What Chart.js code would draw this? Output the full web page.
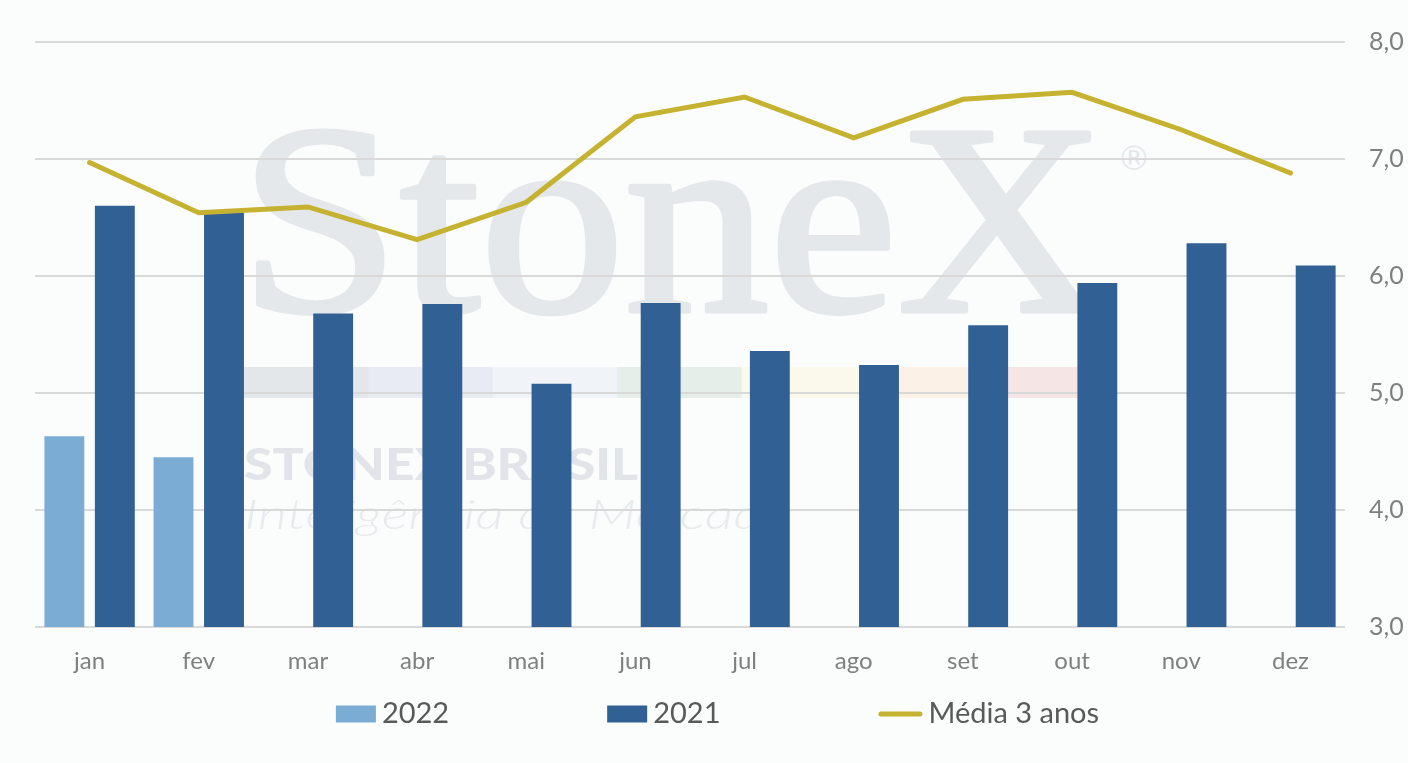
<!DOCTYPE html>
<html>
<head>
<meta charset="utf-8">
<script src="https://cdn.jsdelivr.net/npm/chart.js@4.4.1/dist/chart.umd.min.js"></script>
<style>
  html, body { margin: 0; padding: 0; background: #FBFCFC; overflow: hidden; }
  #wrap { position: relative; width: 1408px; height: 763px; }
</style>
</head>
<body>
<div id="wrap"><canvas id="chart"></canvas></div>
<script>
const categories = ['jan', 'fev', 'mar', 'abr', 'mai', 'jun', 'jul', 'ago', 'set', 'out', 'nov', 'dez'];
const serie2022 = [4.63, 4.45, null, null, null, null, null, null, null, null, null, null];
const serie2021 = [6.60, 6.54, 5.68, 5.76, 5.08, 5.77, 5.36, 5.24, 5.58, 5.94, 6.28, 6.09];
const media3anos = [6.97, 6.54, 6.59, 6.31, 6.63, 7.36, 7.53, 7.18, 7.51, 7.57, 7.25, 6.88];
const yTickValues = [3, 4, 5, 6, 7, 8];
const seriesLabels = ['2022', '2021', 'Média 3 anos'];

const COLORS = { c2022: '#7BADD4', c2021: '#316094', media: '#C5B230', grid: '#D9D9D9', tick: '#7F7F7F', legend: '#595959', bg: '#FBFCFC' };
const FONT = 'Lato, "Open Sans", sans-serif';

const fmt = v => v.toFixed(1).replace('.', ',');

// Background + faint StoneX watermark (decoration behind the grid)
const watermarkPlugin = {
  id: 'watermark',
  beforeDraw(chart) {
    const ctx = chart.ctx;
    ctx.save();
    ctx.fillStyle = COLORS.bg;
    ctx.fillRect(0, 0, chart.width, chart.height);

    // Big serif word
    ctx.fillStyle = '#E4E8EB';
    ctx.strokeStyle = '#E4E8EB';
    ctx.lineWidth = 5;
    ctx.lineJoin = 'round';
    ctx.font = '272px "Liberation Serif", "DejaVu Serif", serif';
    ctx.textBaseline = 'alphabetic';
    ctx.textAlign = 'left';
    const w = ctx.measureText('StoneX').width;
    ctx.save();
    ctx.translate(239, 311);
    ctx.scale(867 / w, 1);
    ctx.fillText('StoneX', 0, 0);
    ctx.strokeText('StoneX', 0, 0);
    ctx.restore();
    ctx.font = '34px "DejaVu Sans", sans-serif';
    ctx.fillText('®', 1117, 170);

    // Coloured bands
    const bandCols = ['#E3E7EA', '#E8EBF4', '#F0F3F8', '#E6EEEA', '#FBF8EC', '#FBF1E6', '#F5E5E5'];
    const x0 = 244, x1 = 1115, bw = (x1 - x0) / bandCols.length;
    bandCols.forEach((c, i) => {
      ctx.fillStyle = c;
      ctx.fillRect(x0 + i * bw, 367, bw + 0.5, 31);
    });

    // Sub-titles
    ctx.fillStyle = '#E1E5E9';
    ctx.font = '900 44px Lato, sans-serif';
    const w2 = ctx.measureText('STONEX BRASIL').width;
    ctx.save();
    ctx.translate(244, 480);
    ctx.scale(394 / w2, 1);
    ctx.fillText('STONEX BRASIL', 0, 0);
    ctx.restore();

    ctx.fillStyle = '#E8EBEE';
    ctx.font = 'italic 300 42px Lato, sans-serif';
    const w3 = ctx.measureText('Inteligência de Mercado').width;
    ctx.save();
    ctx.translate(244, 529);
    ctx.scale(548 / w3, 1);
    ctx.fillText('Inteligência de Mercado', 0, 0);
    ctx.restore();
    ctx.restore();
  }
};

// Legend drawn below the axis, built from the datasets
const legendPlugin = {
  id: 'customLegend',
  afterDraw(chart) {
    const ctx = chart.ctx;
    ctx.save();
    ctx.font = '29px ' + FONT;
    ctx.textBaseline = 'middle';
    ctx.textAlign = 'left';
    const boxW = 40, gapText = 6, gapItem = 158;
    const items = chart.data.datasets.map(ds => ({
      text: ds.label,
      color: ds.type === 'line' ? ds.borderColor : ds.backgroundColor,
      line: ds.type === 'line',
      mw: ds.type === 'line' ? 44 : boxW
    }));
    let total = 0;
    items.forEach((it, i) => {
      it.tw = ctx.measureText(it.text).width;
      total += it.mw + gapText + it.tw + (i < items.length - 1 ? gapItem : 0);
    });
    const cy = 714;
    let x = 717.5 - total / 2;
    items.forEach(it => {
      if (it.line) {
        ctx.strokeStyle = it.color;
        ctx.lineWidth = 5;
        ctx.lineCap = 'round';
        ctx.beginPath();
        ctx.moveTo(x + 2.5, cy);
        ctx.lineTo(x + it.mw - 2.5, cy);
        ctx.stroke();
      } else {
        ctx.fillStyle = it.color;
        ctx.fillRect(x, cy - 8.5, it.mw, 17);
      }
      x += it.mw + gapText;
      ctx.fillStyle = COLORS.legend;
      ctx.fillText(it.text, x, cy);
      x += it.tw + gapItem;
    });
    ctx.restore();
  }
};

new Chart(document.getElementById('chart'), {
  data: {
    labels: categories,
    datasets: [
      { type: 'bar', label: seriesLabels[0], data: serie2022, backgroundColor: COLORS.c2022, order: 2,
        categoryPercentage: 0.925, barPercentage: 0.79 },
      { type: 'bar', label: seriesLabels[1], data: serie2021, backgroundColor: COLORS.c2021, order: 2,
        categoryPercentage: 0.925, barPercentage: 0.79 },
      { type: 'line', label: seriesLabels[2], data: media3anos, borderColor: COLORS.media, backgroundColor: COLORS.media,
        borderWidth: 5, pointRadius: 0, pointHoverRadius: 0, tension: 0, borderCapStyle: 'round', borderJoinStyle: 'miter', order: 1 }
    ]
  },
  options: {
    responsive: true,
    maintainAspectRatio: false,
    animation: false,
    devicePixelRatio: 1,
    layout: { padding: { left: 35, right: 0, top: 42, bottom: 76 } },
    plugins: {
      legend: { display: false },
      tooltip: { enabled: false }
    },
    scales: {
      x: {
        grid: { display: false },
        border: { display: false },
        ticks: { color: COLORS.tick, font: { family: FONT, size: 24 }, padding: 12, maxRotation: 0 },
        afterFit(scale) { scale.height = 60; }
      },
      y: {
        position: 'right',
        min: 3,
        max: 8,
        afterBuildTicks(scale) { scale.ticks = yTickValues.map(v => ({ value: v })); },
        grid: { color: COLORS.grid, lineWidth: 2, drawTicks: false },
        border: { display: false },
        ticks: { color: COLORS.tick, font: { family: FONT, size: 25 }, padding: 24, callback: v => fmt(v) },
        afterFit(scale) { scale.width = 63; }
      }
    }
  },
  plugins: [watermarkPlugin, legendPlugin]
});
</script>
</body>
</html>
